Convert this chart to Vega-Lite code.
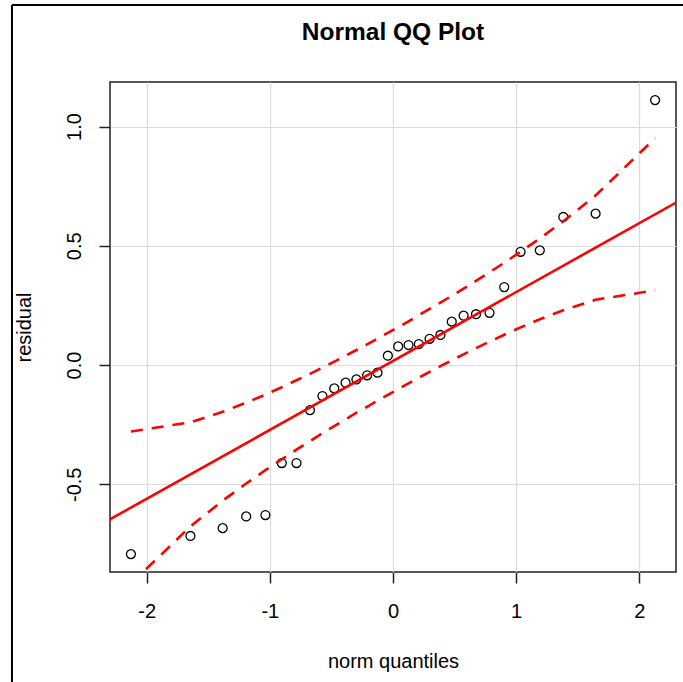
{
  "$schema": "https://vega.github.io/schema/vega-lite/v6.json",
  "width": 566,
  "height": 490,
  "autosize": {"type": "none"},
  "padding": {"left": 110, "top": 82, "right": 7, "bottom": 110},
  "background": "white",
  "title": {
    "text": "Normal QQ Plot",
    "font": "Liberation Sans",
    "fontSize": 24.5,
    "fontWeight": "bold",
    "color": "black",
    "anchor": "middle",
    "frame": "group",
    "baseline": "alphabetic",
    "offset": -61
  },
  "config": {
    "view": {"stroke": "#222222", "strokeWidth": 1.5},
    "axis": {
      "labelFont": "Liberation Sans",
      "titleFont": "Liberation Sans",
      "labelColor": "black",
      "titleColor": "black",
      "titleFontWeight": "normal",
      "labelFontSize": 20,
      "titleFontSize": 20,
      "domain": false,
      "tickColor": "#222222",
      "tickWidth": 1.5,
      "tickSize": 11,
      "grid": true,
      "gridColor": "#dcdcdc",
      "gridWidth": 1.2
    }
  },
  "datasets": {
    "qq": [
      {"q": -2.128, "residual": -0.793, "upper": -0.279, "lower": -0.917},
      {"q": -1.645, "residual": -0.717, "upper": -0.240, "lower": -0.677},
      {"q": -1.383, "residual": -0.684, "upper": -0.196, "lower": -0.569},
      {"q": -1.192, "residual": -0.635, "upper": -0.158, "lower": -0.497},
      {"q": -1.036, "residual": -0.629, "upper": -0.124, "lower": -0.441},
      {"q": -0.903, "residual": -0.411, "upper": -0.093, "lower": -0.395},
      {"q": -0.784, "residual": -0.411, "upper": -0.064, "lower": -0.355},
      {"q": -0.674, "residual": -0.189, "upper": -0.037, "lower": -0.319},
      {"q": -0.573, "residual": -0.130, "upper": -0.011, "lower": -0.286},
      {"q": -0.477, "residual": -0.098, "upper": 0.014, "lower": -0.256},
      {"q": -0.385, "residual": -0.074, "upper": 0.039, "lower": -0.228},
      {"q": -0.297, "residual": -0.060, "upper": 0.063, "lower": -0.200},
      {"q": -0.210, "residual": -0.043, "upper": 0.087, "lower": -0.175},
      {"q": -0.126, "residual": -0.032, "upper": 0.111, "lower": -0.149},
      {"q": -0.042, "residual": 0.039, "upper": 0.135, "lower": -0.125},
      {"q": 0.042, "residual": 0.078, "upper": 0.159, "lower": -0.101},
      {"q": 0.126, "residual": 0.084, "upper": 0.183, "lower": -0.077},
      {"q": 0.210, "residual": 0.088, "upper": 0.209, "lower": -0.053},
      {"q": 0.297, "residual": 0.110, "upper": 0.235, "lower": -0.029},
      {"q": 0.385, "residual": 0.126, "upper": 0.262, "lower": -0.005},
      {"q": 0.477, "residual": 0.182, "upper": 0.290, "lower": 0.020},
      {"q": 0.573, "residual": 0.207, "upper": 0.320, "lower": 0.045},
      {"q": 0.674, "residual": 0.213, "upper": 0.353, "lower": 0.071},
      {"q": 0.784, "residual": 0.219, "upper": 0.389, "lower": 0.098},
      {"q": 0.903, "residual": 0.327, "upper": 0.429, "lower": 0.127},
      {"q": 1.036, "residual": 0.475, "upper": 0.475, "lower": 0.158},
      {"q": 1.192, "residual": 0.481, "upper": 0.531, "lower": 0.192},
      {"q": 1.383, "residual": 0.621, "upper": 0.603, "lower": 0.230},
      {"q": 1.645, "residual": 0.635, "upper": 0.711, "lower": 0.274},
      {"q": 2.128, "residual": 1.111, "upper": 0.951, "lower": 0.313}
    ],
    "fit": [
      {"q": -2.5, "fit": -0.7055},
      {"q": 2.5, "fit": 0.7395}
    ]
  },
  "layer": [
    {
      "data": {"name": "qq"},
      "mark": {"type": "point", "shape": "circle", "filled": false, "color": "black", "strokeWidth": 1.3, "size": 80, "opacity": 1},
      "encoding": {
        "x": {
          "field": "q", "type": "quantitative",
          "scale": {"domain": [-2.298, 2.298], "nice": false, "zero": false},
          "axis": {
            "title": "norm quantiles",
            "values": [-2, -1, 0, 1, 2],
            "labelExpr": "datum.value < 0 ? '-' + format(-datum.value, 'd') : format(datum.value, 'd')",
            "labelPadding": 18,
            "titlePadding": 30
          }
        },
        "y": {
          "field": "residual", "type": "quantitative",
          "scale": {"domain": [-0.868, 1.187], "nice": false, "zero": false},
          "axis": {
            "title": "residual",
            "values": [-0.5, 0, 0.5, 1],
            "labelExpr": "datum.value < 0 ? '-' + format(-datum.value, '.1f') : format(datum.value, '.1f')",
            "labelAngle": -90,
            "labelAlign": "center",
            "labelBaseline": "alphabetic",
            "labelPadding": 19,
            "titlePadding": 30
          }
        }
      }
    },
    {
      "data": {"name": "qq"},
      "mark": {"type": "line", "color": "#ff0000", "strokeWidth": 2.6, "strokeDash": [12, 9], "clip": true},
      "encoding": {
        "x": {"field": "q", "type": "quantitative", "title": "norm quantiles"},
        "y": {"field": "upper", "type": "quantitative", "title": "residual"}
      }
    },
    {
      "data": {"name": "qq"},
      "mark": {"type": "line", "color": "#ff0000", "strokeWidth": 2.6, "strokeDash": [12, 9], "clip": true},
      "encoding": {
        "x": {"field": "q", "type": "quantitative", "title": "norm quantiles"},
        "y": {"field": "lower", "type": "quantitative", "title": "residual"}
      }
    },
    {
      "data": {"name": "fit"},
      "mark": {"type": "line", "color": "#ff0000", "strokeWidth": 2.6, "clip": true},
      "encoding": {
        "x": {"field": "q", "type": "quantitative", "title": "norm quantiles"},
        "y": {"field": "fit", "type": "quantitative", "title": "residual"}
      }
    },
    {
      "data": {"values": [{}]},
      "mark": {"type": "rule", "color": "black", "strokeWidth": 2, "clip": false},
      "encoding": {
        "x": {"datum": -3.094, "type": "quantitative", "title": "norm quantiles"},
        "y": {"datum": 1.51, "type": "quantitative", "title": "residual"},
        "y2": {"datum": -1.5}
      }
    },
    {
      "data": {"values": [{}]},
      "mark": {"type": "rule", "color": "black", "strokeWidth": 2, "clip": false},
      "encoding": {
        "x": {"datum": -3.094, "type": "quantitative", "title": "norm quantiles"},
        "x2": {"datum": 2.5},
        "y": {"datum": 1.51, "type": "quantitative", "title": "residual"}
      }
    }
  ]
}
